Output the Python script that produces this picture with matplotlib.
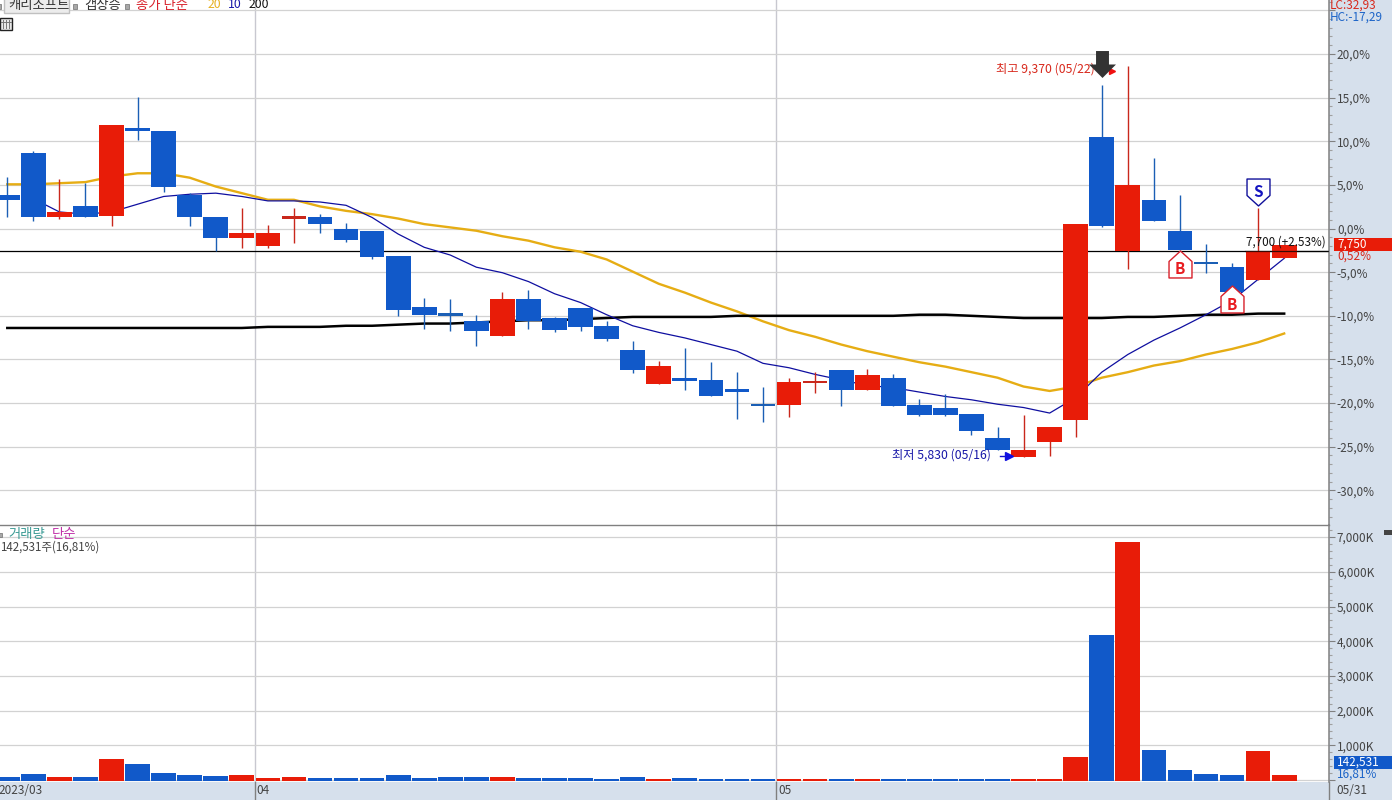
import matplotlib
matplotlib.use('Agg')
import matplotlib.pyplot as plt
from matplotlib.path import Path
from matplotlib.patches import Rectangle
from matplotlib.ticker import FixedLocator

plt.rcParams['font.family'] = ['Noto Sans CJK KR', 'DejaVu Sans']
plt.rcParams['font.size'] = 8.5

# Daily candles in won
opens = [8200, 8580, 8000, 8100, 8010, 8810, 8780, 8200, 8000, 7810,
         7740, 7990, 8000, 7900, 7880, 7650, 7190, 7130, 7060, 6930,
         7260, 7090, 7180, 7020, 6800, 6490, 6550, 6530, 6450, 6310,
         6300, 6500, 6620, 6440, 6550, 6300, 6280, 6220, 6000, 5830,
         5970, 6170, 8730, 7700, 8160, 7880, 7600, 7550, 7430, 7630]
highs = [8370, 8600, 8350, 8310, 8840, 9090, 8780, 8220, 8000, 8090,
         7930, 8090, 8030, 7950, 7880, 7650, 7270, 7260, 7120, 7330,
         7340, 7100, 7180, 7060, 6880, 6700, 6820, 6690, 6600, 6470,
         6550, 6600, 6620, 6630, 6580, 6360, 6400, 6220, 6100, 6210,
         6100, 7940, 9200, 9370, 8540, 8200, 7760, 7590, 8090, 7750]
lows = [8000, 7970, 7990, 8000, 7920, 8700, 8230, 7920, 7700, 7720,
        7720, 7770, 7860, 7780, 7620, 7110, 6990, 6970, 6840, 6930,
        6990, 6960, 6970, 6880, 6590, 6490, 6440, 6380, 6180, 6150,
        6190, 6410, 6290, 6440, 6290, 6200, 6200, 6030, 5900, 5830,
        5840, 6010, 7910, 7530, 7970, 7710, 7500, 7330, 7430, 7630]
closes = [8160, 8000, 8050, 8000, 8840, 8780, 8280, 8000, 7810, 7860,
          7860, 8010, 7940, 7800, 7640, 7160, 7120, 7110, 6970, 7260,
          7060, 6980, 7010, 6900, 6620, 6660, 6520, 6380, 6420, 6300,
          6510, 6520, 6440, 6570, 6290, 6210, 6210, 6070, 5900, 5900,
          6100, 7940, 7920, 8290, 7970, 7710, 7580, 7330, 7700, 7750]
# red / blue follows the chart, not open vs close
is_red = [0, 0, 1, 0, 1, 0, 0, 0, 0, 1, 1, 1, 0, 0, 0, 0, 0, 0, 0, 1,
          0, 0, 0, 0, 0, 1, 0, 0, 0, 0, 1, 1, 0, 1, 0, 0, 0, 0, 0, 1,
          1, 1, 0, 1, 0, 0, 0, 0, 1, 1]

# Volume in thousands of shares
volumes = [95, 173, 95, 95, 606, 461, 202, 144, 115, 144,
           58, 95, 58, 58, 70, 150, 65, 85, 85, 90,
           60, 60, 60, 40, 90, 40, 50, 40, 35, 30,
           30, 30, 30, 30, 30, 25, 25, 25, 25, 30,
           40, 663, 4180, 6864, 865, 288, 173, 144, 836, 142.531]

# Moving averages
ma20 = [8300, 8300, 8310, 8320, 8370, 8400, 8400, 8360, 8280, 8220,
        8160, 8160, 8100, 8060, 8030, 7990, 7940, 7910, 7880, 7830,
        7790, 7730, 7690, 7620, 7510, 7400, 7320, 7230, 7150, 7060,
        6980, 6920, 6850, 6790, 6740, 6690, 6650, 6600, 6550, 6470,
        6430, 6470, 6550, 6600, 6660, 6700, 6760, 6810, 6870, 6950]
ma10 = [8170, 8050, 8030, 8050, 8120, 8190, 8210, 8220, 8190, 8150,
        8150, 8140, 8110, 8000, 7850, 7730, 7660, 7550, 7500, 7420,
        7310, 7230, 7120, 7020, 6960, 6910, 6850, 6790, 6680, 6640,
        6580, 6530, 6480, 6460, 6420, 6380, 6350, 6310, 6280, 6230,
        6370, 6600, 6760, 6890, 7000, 7120, 7250, 7440, 7630]
ma200 = [7000, 7000, 7000, 7000, 7000, 7000, 7000, 7000, 7000, 7000,
         7010, 7010, 7010, 7020, 7020, 7030, 7040, 7040, 7050, 7060,
         7070, 7070, 7080, 7090, 7100, 7100, 7100, 7100, 7110, 7110,
         7110, 7110, 7110, 7110, 7110, 7120, 7120, 7110, 7100, 7090,
         7090, 7090, 7090, 7100, 7100, 7110, 7120, 7120, 7130, 7130]

base_price = 7900
last_price = 7700
pct_ticks = [-30, -25, -20, -15, -10, -5, 0, 5, 10, 15, 20, 25]
pct_labels = ['-30,0%', '-25,0%', '-20,0%', '-15,0%', '-10,0%', '-5,0%', '0,0%',
              '5,0%', '10,0%', '15,0%', '20,0%', '']
vol_ticks = [0, 1000, 2000, 3000, 4000, 5000, 6000, 7000]
vol_labels = ['', '1,000K', '2,000K', '3,000K', '4,000K', '5,000K', '6,000K', '7,000K']
month_pos = [9.5, 29.5]
month_labels = ['04', '05']

RED = '#e81c08'
BLUE = '#1159c9'
RED_WICK = '#c9281c'
BLUE_WICK = '#1b5fb5'
GRID = '#d2d2d2'
PANEL = '#d6e0ec'
AXIS = '#808080'
TEXT = '#444444'

W, H = 1392, 800
fig = plt.figure(figsize=(W / 100, H / 100), dpi=100, facecolor=PANEL)


def px(x, y):
    return x / W, 1 - y / H


ax = fig.add_axes([0, 1 - 525 / H, 1329 / W, 525 / H], facecolor='white')
ax_vol = fig.add_axes([0, 18 / H, 1329 / W, (782 - 525) / H], facecolor='white')

xlim = (-0.28, 50.72)
for a in (ax, ax_vol):
    a.set_xlim(*xlim)
    for side in ('left', 'bottom'):
        a.spines[side].set_visible(False)
    a.spines['top'].set_color(AXIS)
    a.spines['right'].set_color(AXIS)
    a.spines['top'].set_linewidth(1)
    a.spines['right'].set_linewidth(1.1)
    a.yaxis.tick_right()
    a.set_xticks(month_pos)
    a.tick_params(axis='x', length=0, labelbottom=False)
    a.xaxis.grid(True, color='#c8c8d0', lw=1, zorder=1)
    a.yaxis.grid(True, color=GRID, lw=0.9, zorder=1)
    a.set_axisbelow(True)
    a.tick_params(axis='y', which='major', length=4.5, width=0.8, color=AXIS, pad=1.2,
                  labelcolor=TEXT, labelsize=8.5)
    a.tick_params(axis='y', which='minor', length=1.8, width=0.8, color='#a0a0a0')
ax.spines['top'].set_visible(False)

# Price panel
ax.set_ylim(5217, 9968)
ax.set_yticks([base_price * (1 + p / 100) for p in pct_ticks])
ax.set_yticklabels(pct_labels)
minor = [base_price * (1 + p / 100) for p in range(-33, 27)]
ax.yaxis.set_minor_locator(FixedLocator(minor))

ax.axhline(last_price, color='black', lw=0.9, zorder=2)
days = list(range(len(closes)))
ax.plot(days, ma20, color='#e6ad14', lw=1.7, zorder=3, solid_joinstyle='round')
ax.plot(days, ma200, color='black', lw=1.8, zorder=3)
ax.plot(days[1:], ma10, color='#0f0fa0', lw=0.9, zorder=3)

for i in days:
    body_col = RED if is_red[i] else BLUE
    wick_col = RED_WICK if is_red[i] else BLUE_WICK
    ax.vlines(i, lows[i], highs[i], color=wick_col, lw=1, zorder=4)
    top = max(opens[i], closes[i])
    bot = min(opens[i], closes[i])
    if top - bot < 30:
        ax.bar(i, 22, bottom=(top + bot) / 2 - 11, width=0.95, color=wick_col, zorder=5)
    else:
        ax.bar(i, top - bot, bottom=bot, width=0.95, color=body_col, zorder=5)
ax.plot([47.5, xlim[1]], [last_price, last_price], color='black', lw=0.9, alpha=0.75, zorder=6)

# Signal flags
up_flag = Path([(0, 13.5), (11.5, 3), (11.5, -13.5), (-11.5, -13.5), (-11.5, 3), (0, 13.5)], closed=True)
down_flag = Path([(0, -13.5), (11.5, -3), (11.5, 13.5), (-11.5, 13.5), (-11.5, -3), (0, -13.5)], closed=True)
for i, price in [(45, 7580), (47, 7260)]:
    ax.plot(i, price, marker=up_flag, ms=19.4, mfc='white', mec='#d8202a', mew=1, zorder=7)
    ax.annotate('B', (i, price), xytext=(0, -4), textcoords='offset points', color='#e81c20',
                fontsize=11, fontweight='bold', ha='center', va='center', zorder=8)
ax.plot(48, 8235, marker=down_flag, ms=19.4, mfc='white', mec='#10109a', mew=1, zorder=7)
ax.annotate('S', (48, 8235), color='#1414c0', fontsize=11, fontweight='bold',
            ha='center', va='center', zorder=8)

# High / low notes
ax.annotate('최고 9,370 (05/22)', (43, 9370), xytext=(-33, -3), textcoords='offset pixels',
            color='#d8281c', ha='right', va='center', fontsize=8.8, zorder=8)
ax.plot(42.4, 9330, marker='>', ms=5, color='#f01010', zorder=8)
ax.plot(42, 9390, marker=Path([(-0.48, 1), (0.48, 1), (0.48, 0), (1, 0), (0, -1), (-1, 0), (-0.48, 0), (-0.48, 1)], closed=True),
        ms=19.4, mfc='#333333', mec='none', zorder=9, clip_on=False)
ax.annotate('최저 5,830 (05/16)', (39, 5830), xytext=(-33, 2), textcoords='offset pixels',
            color='#1818a8', ha='right', va='center', fontsize=8.8, zorder=8)
ax.plot([38.1, 38.4], [5840, 5840], color='#1010d0', lw=1, zorder=8)
ax.plot(38.44, 5840, marker='>', ms=5.5, color='#1010e0', zorder=8)
ax.annotate('7,700 (+2.53%)', (48, last_price), xytext=(-12, 9), textcoords='offset pixels',
            color='#111111', ha='left', va='center', fontsize=8.4, zorder=9)

# Volume panel
ax_vol.set_ylim(-58, 7349)
ax_vol.set_yticks(vol_ticks)
ax_vol.set_yticklabels(vol_labels)
ax_vol.yaxis.set_minor_locator(FixedLocator(list(range(0, 7400, 200))))
ax_vol.bar(days, [v + 30 for v in volumes], bottom=-30, width=0.95,
           color=[RED if r else BLUE for r in is_red], zorder=4)

# Month labels on the bottom band
for pos, lab in zip(month_pos, month_labels):
    ax_vol.annotate(lab, (pos, 0), xycoords=('data', 'axes fraction'), xytext=(2, -9),
                    textcoords='offset pixels', color=TEXT, ha='left', va='center',
                    annotation_clip=False)
    fig.add_artist(plt.Line2D([(pos - xlim[0]) / (xlim[1] - xlim[0]) * 1329 / W] * 2,
                              [0, 18 / H], color=AXIS, lw=1))
fig.text(*px(-2, 791), '2023/03', color=TEXT, ha='left', va='center')
fig.text(*px(1336, 790), '05/31', color=TEXT, ha='left', va='center')
fig.add_artist(plt.Line2D([1329 / W] * 2, [0, 18 / H], color=AXIS, lw=1))

# Header row
fig.patches.append(Rectangle(px(4, 13), 65 / W, 16 / H, transform=fig.transFigure,
                             fc='#ececec', ec='#c0c0c0', lw=1))
fig.text(*px(8, 5), '캐리소프트', color='#333333', ha='left', va='center', fontsize=9.6)
for hx in (-3, 73, 125):
    fig.patches.append(Rectangle(px(hx, 9), 4 / W, 5 / H, transform=fig.transFigure,
                                 fc='#a8a8a8', ec='#808080', lw=0.6))
fig.text(*px(84, 5), '갭상승', color='#333333', ha='left', va='center', fontsize=9.6)
fig.text(*px(136, 5), '종가 단순', color='#d8202a', ha='left', va='center', fontsize=9.6)
fig.text(*px(208, 5), '20', color='#e6b020', ha='left', va='center', fontsize=8.8)
fig.text(*px(228, 5), '10', color='#1818a8', ha='left', va='center', fontsize=8.8)
fig.text(*px(249, 5), '200', color='#111111', ha='left', va='center', fontsize=8.8)
fig.patches.append(Rectangle(px(0, 30), 12 / W, 12 / H, transform=fig.transFigure,
                             fc='#e8e8e8', ec='#222222', lw=1))
for gx in (3, 6, 9):
    fig.add_artist(plt.Line2D([gx / W] * 2, [1 - 28 / H, 1 - 20 / H], color='#777777', lw=0.7))
fig.add_artist(plt.Line2D([1 / W, 11 / W], [1 - 22 / H] * 2, color='#777777', lw=0.7))

fig.patches.append(Rectangle(px(-3, 537), 5 / W, 4 / H, transform=fig.transFigure,
                             fc='#a8a8a8', ec='#808080', lw=0.6))
fig.text(*px(8, 534), '거래량', color='#3a9a94', ha='left', va='center', fontsize=9.6)
fig.text(*px(52, 534), '단순', color='#c030a8', ha='left', va='center', fontsize=9.6)
fig.text(*px(0, 547), '142,531주(16,81%)', color=TEXT, ha='left', va='center', fontsize=8.3)

# Right side tags
fig.text(*px(1330, 5), 'LC:32,93', color='#d8281c', ha='left', va='center', fontsize=8.5)
fig.text(*px(1330, 17), 'HC:-17,29', color='#1c64c8', ha='left', va='center', fontsize=8.5)
fig.patches.append(Rectangle(px(1334, 251), 58 / W, 13 / H, transform=fig.transFigure, fc=RED, ec='none', zorder=5))
fig.text(*px(1337, 244), '7,750', color='white', ha='left', va='center', fontsize=8.5, zorder=6)
fig.text(*px(1337, 256), '0,52%', color='#d8281c', ha='left', va='center', fontsize=8.5)
fig.patches.append(Rectangle(px(1334, 769), 58 / W, 13 / H, transform=fig.transFigure, fc=BLUE, ec='none', zorder=5))
fig.text(*px(1337, 762), '142,531', color='white', ha='left', va='center', fontsize=8.5, zorder=6)
fig.text(*px(1337, 774), '16,81%', color='#1c64c8', ha='left', va='center', fontsize=8.5)
fig.patches.append(Rectangle(px(1384, 535), 8 / W, 5 / H, transform=fig.transFigure, fc='#444444', ec='none'))

fig.savefig('out.png', dpi=100, facecolor=fig.get_facecolor())
